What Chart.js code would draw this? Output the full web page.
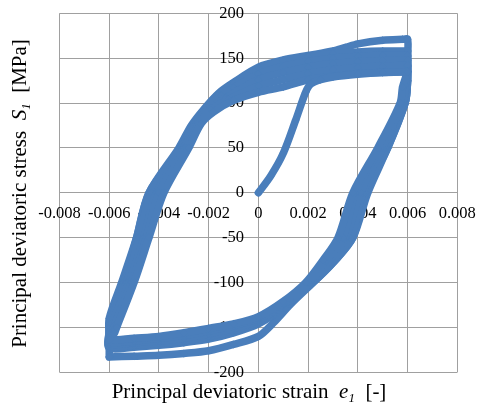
<!DOCTYPE html>
<html>
<head>
<meta charset="utf-8">
<script src="https://cdn.jsdelivr.net/npm/chart.js@4.4.1/dist/chart.umd.min.js"></script>
<style>
html,body{margin:0;padding:0;background:#fff;}
#wrap{width:479px;height:408px;position:relative;}
</style>
</head>
<body>
<div id="wrap"><canvas id="c" width="479" height="408"></canvas></div>
<script>
// ---- tick values / labels ----
const xTickValues = [-0.008, -0.006, -0.004, -0.002, 0, 0.002, 0.004, 0.006, 0.008];
const xTickLabels = ['-0.008', '-0.006', '-0.004', '-0.002', '0', '0.002', '0.004', '0.006', '0.008'];
const yTickValues = [-200, -150, -100, -50, 0, 50, 100, 150, 200];
const yTickLabels = ['-200', '-150', '-100', '-50', '0', '50', '100', '150', '200'];

// ---- series: strain e1 [-], stress S1 [MPa] ----
const initialLoading = [
  [0, 0], [0.0005, 19], [0.001, 44], [0.0015, 81], [0.0019, 112], [0.0021, 121], [0.0025, 126],
  [0.003, 129], [0.004, 132], [0.005, 134], [0.006, 135]
];
const cycleA = [
  [0.006, 135], [0.0058, 118], [0.0057, 100], [0.0048, 50], [0.0038, 0], [0.0032, -50], [0.0026, -75],
  [0.0019, -100], [0.001, -121], [0, -138], [-0.001, -146], [-0.002, -151], [-0.003, -156], [-0.004, -160],
  [-0.005, -162], [-0.006, -164],
  [-0.0058, -157], [-0.0057, -150], [-0.005, -100], [-0.0044, -50], [-0.0038, 0], [-0.0028, 50],
  [-0.0023, 77], [-0.0018, 90], [-0.001, 103], [0, 112], [0.001, 118], [0.002, 126], [0.003, 130],
  [0.004, 133], [0.005, 134], [0.006, 135]
];
const cycleB = [
  [0.006, 141], [0.0059, 120], [0.0058, 100], [0.0049, 50], [0.0039, 0], [0.0034, -50], [0.0027, -76],
  [0.002, -100], [0.001, -123], [0, -140], [-0.001, -148], [-0.002, -154], [-0.003, -159], [-0.004, -162],
  [-0.005, -165], [-0.006, -166],
  [-0.00585, -154], [-0.0058, -148], [-0.0051, -100], [-0.0045, -50], [-0.004, 0], [-0.0029, 50],
  [-0.0024, 77], [-0.0019, 92], [-0.0012, 104], [0, 119], [0.001, 126], [0.002, 133], [0.003, 137],
  [0.004, 140], [0.005, 141], [0.006, 142]
];
const cycleC = [
  [0.006, 147], [0.00597, 122], [0.0058, 100], [0.005, 50], [0.0041, 0], [0.0035, -50], [0.0028, -77],
  [0.002, -100], [0.001, -125], [0, -142], [-0.001, -151], [-0.002, -157], [-0.003, -162], [-0.004, -165],
  [-0.005, -167], [-0.006, -168],
  [-0.0059, -152], [-0.0059, -146], [-0.0052, -100], [-0.0046, -50], [-0.0041, 0], [-0.003, 50],
  [-0.0025, 76], [-0.002, 92], [-0.0013, 106], [0, 126], [0.001, 134], [0.002, 140], [0.003, 144],
  [0.004, 146], [0.005, 147], [0.006, 148]
];
const cycleD = [
  [0.006, 152], [0.006, 124], [0.0059, 100], [0.0051, 50], [0.0042, 0], [0.0037, -50], [0.0029, -78],
  [0.0021, -100], [0.001, -127], [0, -144], [-0.001, -153], [-0.002, -160], [-0.003, -165], [-0.004, -168],
  [-0.005, -170], [-0.006, -171],
  [-0.006, -154], [-0.00595, -143], [-0.0053, -100], [-0.0048, -50], [-0.0043, 0], [-0.0031, 50],
  [-0.0026, 76], [-0.0021, 92], [-0.0015, 108], [-0.001, 117], [0, 132], [0.001, 141], [0.002, 146],
  [0.003, 150], [0.004, 152], [0.005, 153], [0.006, 153]
];
const cycleE = [
  [0.006, 158], [0.006, 125], [0.0059, 100], [0.0052, 50], [0.0043, 0], [0.0038, -50], [0.003, -78],
  [0.0022, -100], [0.001, -128], [0, -146], [-0.001, -156], [-0.002, -163], [-0.003, -167], [-0.004, -170],
  [-0.005, -172], [-0.006, -173],
  [-0.006, -155], [-0.00595, -140], [-0.0054, -100], [-0.0049, -50], [-0.0044, 0], [-0.0031, 50],
  [-0.0026, 75], [-0.0022, 92], [-0.0016, 110], [-0.001, 122], [0, 139], [0.001, 147], [0.002, 152],
  [0.003, 155], [0.004, 157], [0.005, 158], [0.006, 158]
];
const cycleLarge = [
  [-0.006, -183], [-0.006, -160], [-0.006, -140], [-0.0055, -100], [-0.0049, -50], [-0.0044, 0],
  [-0.0032, 50], [-0.0027, 75], [-0.0022, 93], [-0.0016, 111], [-0.001, 123], [0, 140], [0.001, 148],
  [0.002, 153], [0.003, 158], [0.0035, 162], [0.004, 166], [0.005, 170], [0.0058, 171], [0.006, 171],
  [0.006, 150], [0.006, 125], [0.0059, 100], [0.0052, 50], [0.0044, 0], [0.0038, -50], [0.003, -78],
  [0.0022, -100], [0.0013, -124], [0.0006, -145], [0, -160], [-0.001, -169], [-0.002, -176],
  [-0.003, -179], [-0.004, -181], [-0.005, -182], [-0.006, -183]
];

const seriesList = [initialLoading, cycleA, cycleB, cycleC, cycleD, cycleE, cycleLarge];

const BLUE = 'rgb(74,126,187)';
const GRID = '#a0a0a0';
const SERIF = '"Liberation Serif", "Times New Roman", serif';

// plot-area geometry (pixels) and label gaps
const PAD = {left: 59.5, right: 21.7, top: 13.3, bottom: 35.7};
const AREA_W = 479 - PAD.left - PAD.right;
const X_RANGE = 0.016;
const Y_LABEL_GAP = 14.5; // px between y-axis line and right end of its labels

const datasets = seriesList.map(s => ({
  data: s.map(p => ({x: p[0], y: p[1]})),
  showLine: true,
  borderColor: BLUE,
  backgroundColor: BLUE,
  borderWidth: 7.5,
  borderJoinStyle: 'round',
  borderCapStyle: 'round',
  tension: 0.3,
  pointStyle: 'rectRot',
  pointRadius: 4,
  pointBorderWidth: 0,
  pointBackgroundColor: BLUE,
  clip: false
}));

function drawRich(ctx, segs, cx, baseline) {
  let total = 0;
  segs.forEach(s => { ctx.font = s.f; total += ctx.measureText(s.t).width; });
  let x = cx - total / 2;
  ctx.textBaseline = 'alphabetic';
  ctx.textAlign = 'left';
  ctx.fillStyle = '#000';
  segs.forEach(s => {
    ctx.font = s.f;
    ctx.fillText(s.t, x, baseline + (s.dy || 0));
    x += ctx.measureText(s.t).width;
  });
}

const titlePlugin = {
  id: 'richTitles',
  afterDraw(chart) {
    const ctx = chart.ctx;
    const N = '21px ' + SERIF, I = 'italic 21px ' + SERIF, S = 'italic 13px ' + SERIF;
    ctx.save();
    drawRich(ctx, [
      {t: 'Principal deviatoric strain  ', f: N},
      {t: 'e', f: I},
      {t: '1', f: S, dy: 4},
      {t: '  [-]', f: N}
    ], 249, 398);
    ctx.translate(26, 193.5);
    ctx.rotate(-Math.PI / 2);
    drawRich(ctx, [
      {t: 'Principal deviatoric stress  ', f: N},
      {t: 'S', f: I},
      {t: '1', f: S, dy: 4},
      {t: '  [MPa]', f: N}
    ], 0, 0);
    ctx.restore();
  }
};

const tickFont = {family: SERIF, size: 16.5};
const noPad = s => { s.paddingLeft = 0; s.paddingRight = 0; s.paddingTop = 0; s.paddingBottom = 0; };

new Chart(document.getElementById('c'), {
  type: 'scatter',
  data: {datasets},
  options: {
    responsive: false,
    animation: false,
    events: [],
    layout: {padding: PAD},
    plugins: {legend: {display: false}, tooltip: {enabled: false}},
    scales: {
      x: {
        type: 'linear', position: {y: 0}, min: -0.008, max: 0.008,
        afterBuildTicks: ax => { ax.ticks = xTickValues.map(v => ({value: v})); },
        afterFit: noPad,
        grid: {color: GRID, lineWidth: 1, drawTicks: true, tickLength: 5, tickColor: GRID},
        border: {display: true, color: GRID, width: 1},
        ticks: {display: false}
      },
      y: {
        type: 'linear', position: {x: 0}, min: -200, max: 200,
        afterBuildTicks: ax => { ax.ticks = yTickValues.map(v => ({value: v})); },
        afterFit: noPad,
        grid: {color: GRID, lineWidth: 1, drawTicks: true, tickLength: 5, tickColor: GRID},
        border: {display: true, color: GRID, width: 1},
        ticks: {display: false}
      },
      x2: {
        type: 'linear', axis: 'x', position: {y: 0}, min: -0.008, max: 0.008, z: 2,
        afterBuildTicks: ax => { ax.ticks = xTickValues.map(v => ({value: v})); },
        afterFit: noPad,
        grid: {display: false, drawTicks: false},
        border: {display: false},
        ticks: {display: true, font: tickFont, color: '#000', padding: 10.5, maxRotation: 0, autoSkip: false,
          callback: (v, i) => xTickLabels[i]}
      },
      y2: {
        type: 'linear', axis: 'y', position: {x: -Y_LABEL_GAP * X_RANGE / AREA_W}, min: -200, max: 200, z: 2,
        afterBuildTicks: ax => { ax.ticks = yTickValues.map(v => ({value: v})); },
        afterFit: noPad,
        grid: {display: false, drawTicks: false},
        border: {display: false},
        ticks: {display: true, font: tickFont, color: '#000', padding: 0, autoSkip: false,
          callback: (v, i) => yTickLabels[i]}
      }
    }
  },
  plugins: [titlePlugin]
});
</script>
</body>
</html>
